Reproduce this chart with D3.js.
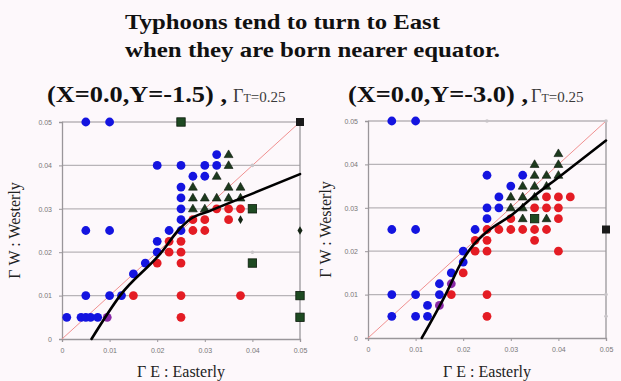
<!DOCTYPE html>
<html><head><meta charset="utf-8">
<script src="https://cdn.jsdelivr.net/npm/d3@7"></script>
<style>
html,body{margin:0;padding:0;background:#fdf8fb;}
svg{display:block;}
</style></head>
<body>
<svg id="chart" width="621" height="381"></svg>
<script>
// ---------- DATA ----------
const titleLines = ["Typhoons tend to turn to East", "when they are born nearer equator."];
const panelTitles = ["(X=0.0,Y=-1.5) ,", "(X=0.0,Y=-3.0) ,"];
const gammaT = "T=0.25";
const tickValues = [0, 0.01, 0.02, 0.03, 0.04, 0.05];
const tickLabels = ["0", "0.01", "0.02", "0.03", "0.04", "0.05"];
const xLabel = "Γ E : Easterly";
const yLabel = "Γ W : Westerly";

// Left panel (Y=-1.5)
const blueL = [[0.005,0.05],[0.01,0.05],[0.0325,0.0425],[0.02,0.04],[0.025,0.04],[0.03,0.04],[0.0325,0.04],
  [0.0275,0.0375],[0.03,0.0375],[0.025,0.035],[0.025,0.0325],[0.025,0.03],[0.025,0.0275],
  [0.005,0.025],[0.01,0.025],[0.0225,0.025],[0.025,0.025],[0.02,0.0225],[0.02,0.02],[0.0175,0.0175],
  [0.015,0.015],[0.005,0.01],[0.01,0.01],[0.0125,0.01],[0.001,0.005],[0.004,0.005],[0.005,0.005],[0.006,0.005],[0.0075,0.005]];
const redL = [[0.0275,0.0275],[0.03,0.0275],[0.035,0.0275],[0.0325,0.03],[0.035,0.03],[0.0375,0.03],
  [0.0275,0.025],[0.03,0.025],[0.0225,0.0225],[0.025,0.0225],[0.0225,0.02],[0.025,0.02],
  [0.02,0.0175],[0.025,0.0175],[0.015,0.01],[0.025,0.01],[0.0375,0.01],[0.025,0.005]];
const purpleL = [[0.0095,0.005]];
const triL = [[0.035,0.0425],[0.035,0.04],[0.0325,0.0375],[0.0275,0.035],[0.035,0.035],[0.0375,0.035],
  [0.0275,0.0325],[0.03,0.0325],[0.0325,0.0325],[0.035,0.0325],[0.0375,0.0325],[0.0275,0.03],[0.03,0.03]];
const greenSqL = [[0.025,0.05],[0.04,0.03],[0.04,0.0175],[0.05,0.01],[0.05,0.005]];
const blackSqL = [[0.05,0.05]];
const diamondL = [[0.0375,0.0275],[0.05,0.025]];
const faintL = [[0.04,0.04],[0.04,0.02]];
const curveL = [[0.0062,0],[0.0122,0.01],[0.0209,0.02],[0.0244,0.025],[0.0269,0.0276],[0.031,0.0295],[0.04,0.0335],[0.05,0.038]];

// Right panel (Y=-3.0)
const blueR = [[0.005,0.05],[0.01,0.05],[0.025,0.0375],[0.0325,0.0375],[0.03,0.035],[0.0275,0.0325],
  [0.025,0.03],[0.0275,0.03],[0.025,0.0275],[0.005,0.025],[0.01,0.025],[0.0225,0.025],
  [0.02,0.02],[0.02,0.0175],[0.0175,0.015],[0.015,0.0125],[0.005,0.01],[0.01,0.01],[0.015,0.01],
  [0.0125,0.0075],[0.005,0.005],[0.01,0.005],[0.0125,0.005]];
const redR = [[0.0375,0.0325],[0.04,0.0325],[0.0425,0.0325],[0.035,0.03],[0.0375,0.03],[0.04,0.03],
  [0.03,0.0275],[0.04,0.0275],[0.025,0.025],[0.0275,0.025],[0.03,0.025],[0.0325,0.025],[0.035,0.025],[0.0375,0.025],
  [0.0225,0.0225],[0.025,0.0225],[0.035,0.0225],[0.0225,0.02],[0.025,0.02],[0.04,0.02],
  [0.02,0.015],[0.0175,0.01],[0.025,0.01],[0.025,0.005]];
const purpleR = [[0.0175,0.0125],[0.015,0.0075]];
const triR = [[0.04,0.0425],[0.035,0.04],[0.04,0.04],[0.035,0.0375],[0.0375,0.0375],[0.04,0.0375],
  [0.0325,0.035],[0.035,0.035],[0.0375,0.035],[0.03,0.0325],[0.0325,0.0325],[0.035,0.0325],
  [0.03,0.03],[0.0325,0.03],[0.0325,0.0275],[0.0375,0.0275]];
const greenSqR = [[0.035,0.0275]];
const blackSqR = [[0.05,0.025]];
const diamondR = [];
const faintR = [[0.025,0.05],[0.05,0.05],[0.05,0.01],[0.05,0.005]];
const curveR = [[0.0113,0],[0.0163,0.01],[0.0197,0.0176],[0.0222,0.0215],[0.025,0.0245],[0.03,0.0282],[0.035,0.0328],[0.04,0.037],[0.05,0.0455]];

// ---------- DRAW ----------
const svg = d3.select("#chart");
const serif = "'Liberation Serif','Times New Roman',serif";
const sans = "'Liberation Sans',Arial,sans-serif";

const titleWidths = [315, 375];
svg.append("g").selectAll("text").data(titleLines).join("text")
  .attr("x", 125).attr("y", (d,i)=> 29 + i*28)
  .attr("font-family", serif).attr("font-weight", "bold").attr("font-size", 22)
  .attr("textLength", (d,i)=>titleWidths[i]).attr("lengthAdjust", "spacingAndGlyphs")
  .attr("fill", "#111").text(d=>d);

const panels = [
  {x0:62, x1:300, y0:339, y1:122, tx:47, gx:233, title:panelTitles[0], ylx:20,
   blue:blueL, red:redL, purple:purpleL, tri:triL, gsq:greenSqL, bsq:blackSqL, dia:diamondL, faint:faintL, curve:curveL},
  {x0:368, x1:606, y0:338, y1:121, tx:348, gx:531, title:panelTitles[1], ylx:331,
   blue:blueR, red:redR, purple:purpleR, tri:triR, gsq:greenSqR, bsq:blackSqR, dia:diamondR, faint:faintR, curve:curveR}
];

panels.forEach(p => {
  const x = d3.scaleLinear().domain([0,0.05]).range([p.x0,p.x1]);
  const y = d3.scaleLinear().domain([0,0.05]).range([p.y0,p.y1]);
  const g = svg.append("g");

  // panel title
  g.append("text").attr("x", p.tx).attr("y", 102).attr("font-family", serif).attr("fill","#111")
    .attr("font-weight","bold").attr("font-size",23)
    .attr("textLength", 180).attr("lengthAdjust","spacingAndGlyphs").text(p.title);
  const t = g.append("text").attr("x", p.gx).attr("y", 102).attr("font-family", serif).attr("fill","#3a3a3a");
  t.append("tspan").attr("font-size",18).text("Γ");
  t.append("tspan").attr("font-size",12).text(gammaT.slice(0,1));
  t.append("tspan").attr("font-size",15).text(gammaT.slice(1));

  // grid lines
  g.append("g").selectAll("line").data(tickValues.filter(v=>v>0)).join("line")
    .attr("x1", p.x0).attr("x2", p.x1).attr("y1", d=>y(d)).attr("y2", d=>y(d))
    .attr("stroke", "#b8b4b8").attr("stroke-width", 1.3);

  // axes
  const xAxis = d3.axisBottom(x).tickValues(tickValues).tickFormat((d,i)=>tickLabels[i]).tickSize(3).tickPadding(6);
  const yAxis = d3.axisLeft(y).tickValues(tickValues).tickFormat((d,i)=>tickLabels[i]).tickSize(3).tickPadding(7);
  const xa = g.append("g").attr("transform", `translate(0,${p.y0})`).call(xAxis);
  const ya = g.append("g").attr("transform", `translate(${p.x0},0)`).call(yAxis);
  [xa, ya].forEach(a => {
    a.select(".domain").attr("stroke", "#9a969a").attr("stroke-width", 1.3);
    a.selectAll(".tick line").attr("stroke", "#9a969a");
    a.selectAll(".tick text").attr("font-family", sans).attr("font-size", 7).attr("fill", "#777");
  });
  // right border
  g.append("line").attr("x1", x(0.05)).attr("x2", x(0.05)).attr("y1", y(0)).attr("y2", y(0.05))
    .attr("stroke", "#9a969a").attr("stroke-width", 1.3);

  // diagonal y=x
  g.append("line").attr("x1", x(0)).attr("y1", y(0)).attr("x2", x(0.05)).attr("y2", y(0.05))
    .attr("stroke", "#f09090").attr("stroke-width", 1);

  // axis labels
  g.append("text").attr("x", (p.x0+p.x1)/2).attr("y", 377).attr("text-anchor","middle")
    .attr("font-family", serif).attr("font-size", 16).attr("fill", "#222").text(xLabel);
  g.append("text").attr("transform", `translate(${p.ylx},${(p.y0+p.y1)/2}) rotate(-90)`)
    .attr("text-anchor","middle").attr("font-family", serif).attr("font-size", 16).attr("fill", "#222").text(yLabel);

  // faint markers
  g.append("g").selectAll("circle").data(p.faint).join("circle")
    .attr("cx", d=>x(d[0])).attr("cy", d=>y(d[1])).attr("r", 1.8).attr("fill", "#c8c4c8");

  // circles
  const circ = (data, color) => g.append("g").selectAll("circle").data(data).join("circle")
    .attr("cx", d=>x(d[0])).attr("cy", d=>y(d[1])).attr("r", 4.4).attr("fill", color);
  circ(p.red, "#e41c24");
  circ(p.blue, "#1414e0");
  circ(p.purple, "#8a2aa8");

  // triangles
  const tri = d3.symbol().type(d3.symbolTriangle).size(34);
  g.append("g").selectAll("path").data(p.tri).join("path")
    .attr("d", tri).attr("transform", d=>`translate(${x(d[0])},${y(d[1])+0.5})`)
    .attr("fill", "#1d3a1d").attr("stroke", "#0b150b").attr("stroke-width", 0.6);

  // squares
  g.append("g").selectAll("rect").data(p.gsq).join("rect")
    .attr("x", d=>x(d[0])-4.2).attr("y", d=>y(d[1])-4.2).attr("width", 8.4).attr("height", 8.4)
    .attr("fill", "#1e4a22").attr("stroke", "#0a1a0a").attr("stroke-width", 0.8);
  g.append("g").selectAll("rect").data(p.bsq).join("rect")
    .attr("x", d=>x(d[0])-4).attr("y", d=>y(d[1])-4).attr("width", 8).attr("height", 8)
    .attr("fill", "#1a1a1a");
  const dia = d3.symbol().type(d3.symbolDiamond).size(22);
  g.append("g").selectAll("path").data(p.dia).join("path")
    .attr("d", dia).attr("transform", d=>`translate(${x(d[0])},${y(d[1])})`).attr("fill", "#152515");

  // fitted curve
  const line = d3.line().x(d=>x(d[0])).y(d=>y(d[1])).curve(d3.curveMonotoneX);
  g.append("path").datum(p.curve).attr("d", line).attr("fill","none")
    .attr("stroke", "#000").attr("stroke-width", 2.6).attr("stroke-linecap","round");
});
</script>
</body></html>
